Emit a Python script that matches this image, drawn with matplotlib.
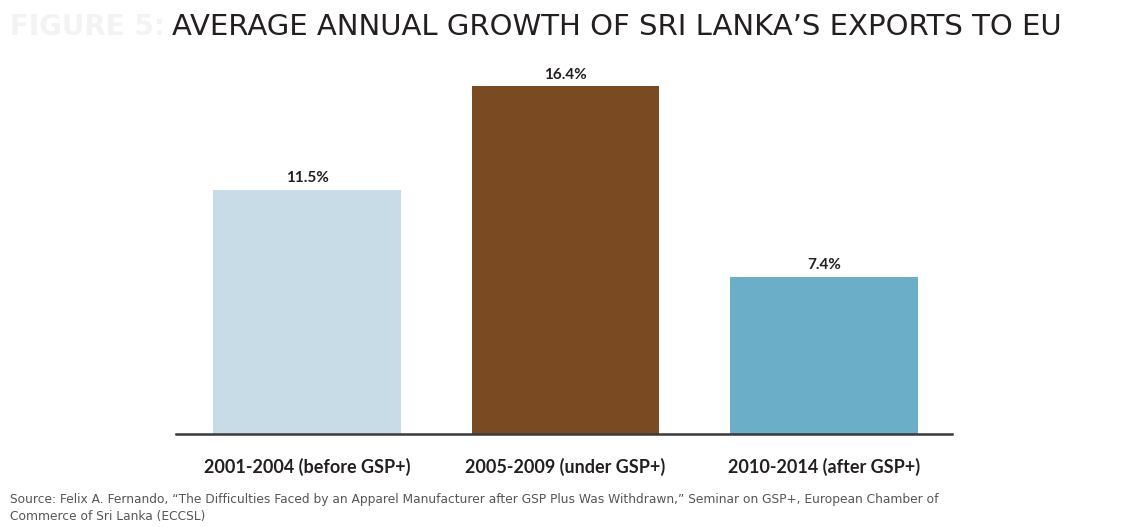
import matplotlib.pyplot as plt

# data
periods = ["2001-2004 (before GSP+)", "2005-2009 (under GSP+)", "2010-2014 (after GSP+)"]
growth = [11.5, 16.4, 7.4]
bar_colors = ["#c8dce8", "#7a4b22", "#6aaec8"]

plt.rcParams['font.family'] = ['Lato', 'DejaVu Sans']

fig = plt.figure(figsize=(11.23, 5.27), dpi=100)
ax = fig.add_axes([0.1567, 0.1765, 0.691, 0.7097])

x = range(len(periods))
bars = ax.bar(x, growth, width=0.727, color=bar_colors)
for b, v in zip(bars, growth):
    ax.text(b.get_x() + b.get_width() / 2, v + 0.22, f"{v}%", ha="center", va="bottom",
            fontsize=11, fontweight="bold", color="#231f20")

ax.set_xlim(-0.507, 2.495)
ax.set_ylim(0, 17.64)
ax.set_xticks(list(x))
ax.set_xticklabels(periods, fontsize=13, fontweight="bold", color="#231f20")
ax.tick_params(axis="x", length=0, pad=17)
ax.set_yticks([])
for s in ["top", "right", "left"]:
    ax.spines[s].set_visible(False)
ax.spines["bottom"].set_color("#3a3a3a")
ax.spines["bottom"].set_linewidth(1.8)

fig.text(0.009, 0.948, "FIGURE 5:", fontsize=20, color="#f3f3f3", fontweight="bold", va="center",
         family="DejaVu Sans")
fig.text(0.153, 0.948, "AVERAGE ANNUAL GROWTH OF SRI LANKA\u2019S EXPORTS TO EU",
         fontsize=21, color="#231f20", va="center", family="DejaVu Sans")

fig.text(0.009, 0.036, "Source: Felix A. Fernando, \u201cThe Difficulties Faced by an Apparel Manufacturer after GSP Plus Was Withdrawn,\u201d Seminar on GSP+, European Chamber of\nCommerce of Sri Lanka (ECCSL)",
         fontsize=8.8, color="#555555", va="center", linespacing=1.35,
         family="DejaVu Sans")

fig.savefig("out.png", dpi=100)
